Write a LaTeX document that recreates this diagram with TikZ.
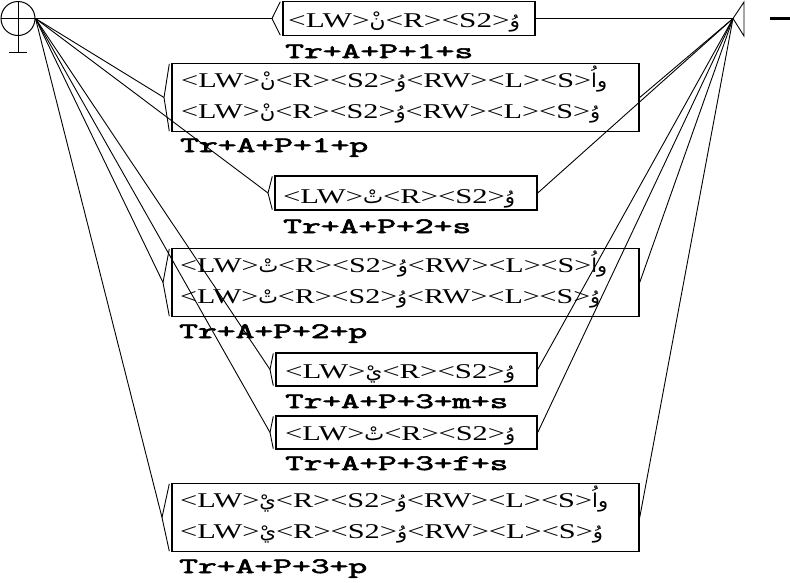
\documentclass[tikz,border=0pt]{standalone}
\usepackage{fontspec}
\usepackage{graphicx}
\usetikzlibrary{calc}
\TeXXeTstate=1
\newfontfamily\boxfont[FakeStretch=1.3]{Liberation Serif}
\newfontfamily\labfont[FakeBold=2.5,FakeStretch=1.05]{Latin Modern Mono}
\newfontfamily\arabfont[Script=Arabic]{DejaVu Sans}
\newcommand\ar[1]{{\fontsize{19}{22}\selectfont\arabfont #1}}
\newcommand\bl[2]{\resizebox{#1pt}{\height}{\fontsize{21}{24}\selectfont\boxfont #2}}
\newcommand\lb[2]{\resizebox{#1pt}{\height}{\fontsize{22}{24}\selectfont\labfont #2}}
\begin{document}
\begin{tikzpicture}[x=1pt,y=-1pt,
  conn/.style={line width=0.9pt},
  stbox/.style={draw, line width=1.4pt, inner sep=0pt, rectangle},
  txt/.style={anchor=base west, inner sep=0pt},
  lab/.style={anchor=base west, inner sep=0pt}]
\useasboundingbox (0,0) rectangle (790,582);
% initial state
\node[circle, draw, line width=1pt, minimum size=34pt, inner sep=0pt] (init) at (18,18.5) {};
\draw[conn] (init.west) -- (init.east);
\draw[conn] (init.north) -- (18,52);
\draw[conn] (9,52) -- (27,52);
% final state
\coordinate (fin) at (733,18.5);
\draw[conn] (fin) -- ++(11,-16.5) -- ++(0,34) -- cycle;
\draw[line width=3pt] (770,18.5) -- (790,18.5);
% boxes
\node[stbox, minimum width=252pt, minimum height=34pt] (b1) at (409,18.5) {};
\node[stbox, minimum width=467pt, minimum height=68pt] (b2) at (405.5,97.5) {};
\node[stbox, minimum width=262pt, minimum height=34pt] (b3) at (406,193) {};
\node[stbox, minimum width=467pt, minimum height=68pt] (b4) at (405.5,282.5) {};
\node[stbox, minimum width=261pt, minimum height=33pt] (b5) at (406.5,369.5) {};
\node[stbox, minimum width=261pt, minimum height=33pt] (b6) at (406.5,432.5) {};
\node[stbox, minimum width=467pt, minimum height=68pt] (b7) at (405.5,517.5) {};
% entry vertices
\coordinate (v1) at (272,18.5);
\coordinate (v2) at (164,97.5);
\coordinate (v3) at (268,193);
\coordinate (v4) at (163,282.5);
\coordinate (v5) at (270,369.5);
\coordinate (v6) at (270,432.5);
\coordinate (v7) at (162,517.5);
\foreach \i in {1,...,7}{
  \draw[conn] ($(b\i.north west)+(-2,1)$) -- (v\i) -- ($(b\i.south west)+(-2,-1)$);
  \draw[conn] (init.east) -- (v\i);
  \draw[conn] (b\i.east) -- (fin);
}
% box texts
\node[txt] (t1) at (288,27) {\bl{232}{<LW>\ar{نْ}<R><S2>\ar{وُ}}};
\node[txt] (t2a) at (181,87) {\bl{426}{<LW>\ar{نْ}<R><S2>\ar{وُ}<RW><L><S>\ar{واُ}}};
\node[txt] (t2b) at (181,118.5) {\bl{419}{<LW>\ar{نْ}<R><S2>\ar{وُ}<RW><L><S>\ar{وُ}}};
\node[txt] (t3) at (283,203) {\bl{232}{<LW>\ar{تْ}<R><S2>\ar{وُ}}};
\node[txt] (t4a) at (180,272) {\bl{427}{<LW>\ar{تْ}<R><S2>\ar{وُ}<RW><L><S>\ar{واُ}}};
\node[txt] (t4b) at (180,303.5) {\bl{420}{<LW>\ar{تْ}<R><S2>\ar{وُ}<RW><L><S>\ar{وُ}}};
\node[txt] (t5) at (285,378) {\bl{230}{<LW>\ar{يْ}<R><S2>\ar{وُ}}};
\node[txt] (t6) at (285,440) {\bl{230}{<LW>\ar{تْ}<R><S2>\ar{وُ}}};
\node[txt] (t7a) at (180,507) {\bl{428}{<LW>\ar{يْ}<R><S2>\ar{وُ}<RW><L><S>\ar{واُ}}};
\node[txt] (t7b) at (180,538.5) {\bl{423}{<LW>\ar{يْ}<R><S2>\ar{وُ}<RW><L><S>\ar{وُ}}};
% labels
\node[lab] (l1) at (285,58) {\lb{188}{Tr+A+P+1+s}};
\node[lab] (l2) at (180,152) {\lb{188}{Tr+A+P+1+p}};
\node[lab] (l3) at (283,233) {\lb{188}{Tr+A+P+2+s}};
\node[lab] (l4) at (179,338) {\lb{188}{Tr+A+P+2+p}};
\node[lab] (l5) at (285,408) {\lb{223}{Tr+A+P+3+m+s}};
\node[lab] (l6) at (285,470) {\lb{223}{Tr+A+P+3+f+s}};
\node[lab] (l7) at (179,573) {\lb{188}{Tr+A+P+3+p}};
\end{tikzpicture}
\end{document}
